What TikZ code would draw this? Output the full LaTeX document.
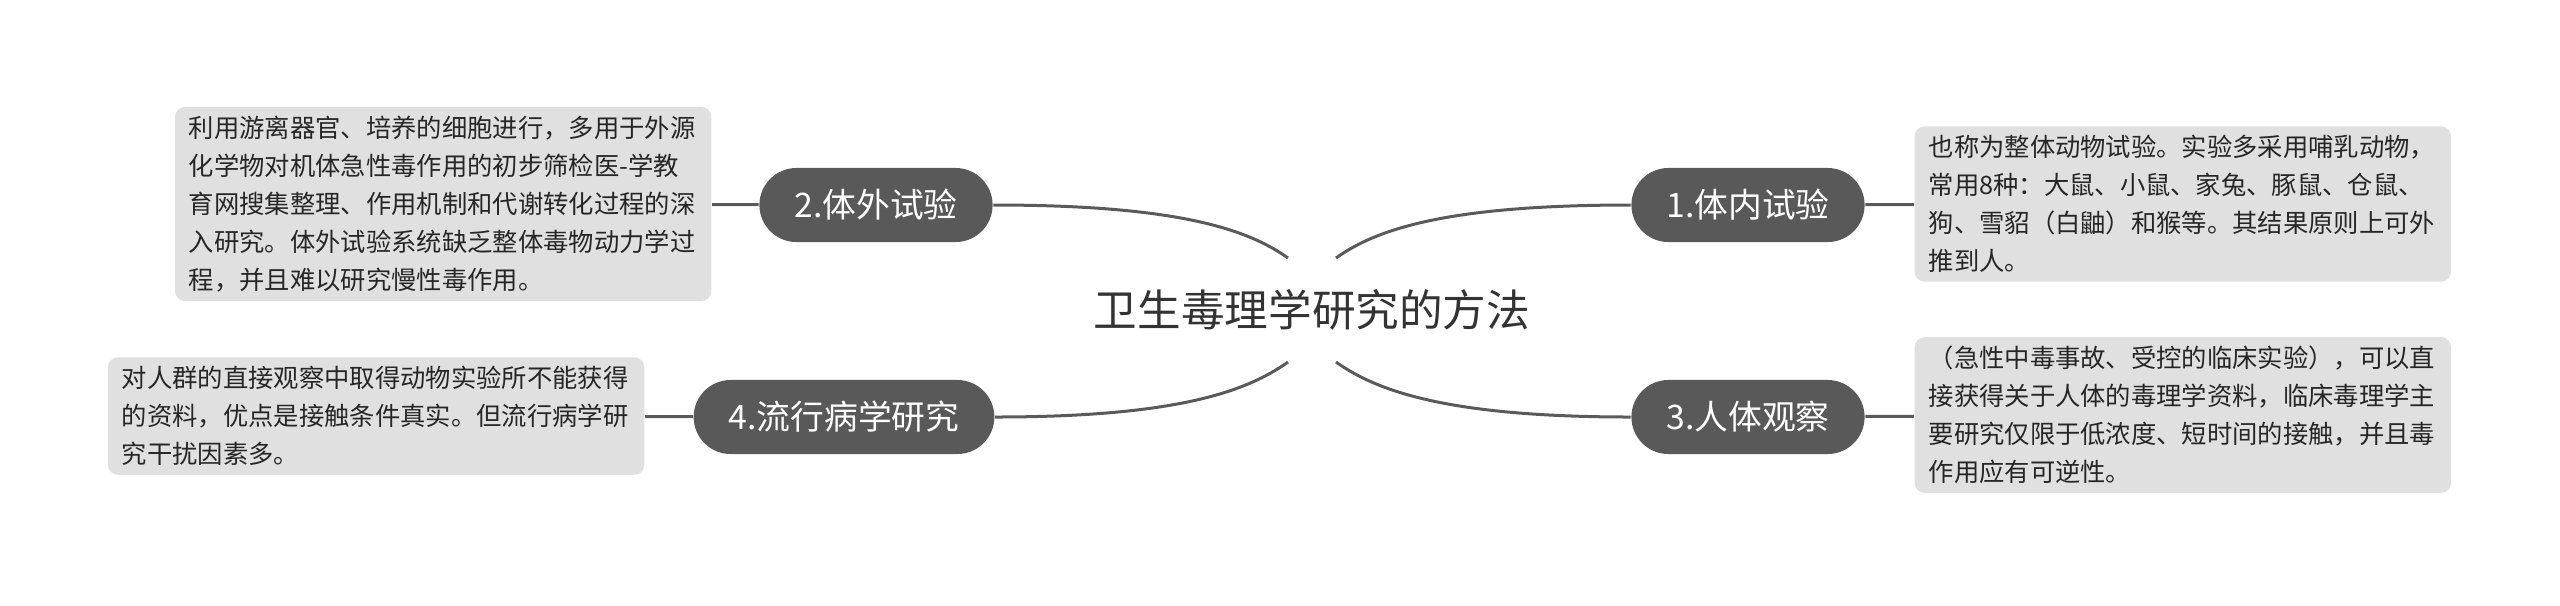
\documentclass[tikz,border=0pt]{standalone}
\usepackage{fontspec}
\setmainfont{Noto Sans CJK SC}
\definecolor{pillgray}{HTML}{595959}
\definecolor{notegray}{HTML}{E0E0E0}
\definecolor{linegray}{HTML}{5A5A5A}
\definecolor{inkgray}{HTML}{333333}
\begin{document}
\begin{tikzpicture} [x=0.01cm, y=-0.01cm]
\tikzstyle{topic}=[fill=pillgray, text=white, rounded corners=0.37cm, minimum height=0.74cm, inner xsep=0.35cm, font=\fontsize{9.6pt}{11pt}\selectfont];
\tikzstyle{note}=[fill=notegray, text=black!85, rounded corners=0.1cm, text width=5.08cm, align=left, inner xsep=0.14cm, inner ysep=0.09cm, font=\fontsize{7.2pt}{10.8pt}\selectfont];
\tikzstyle{link}=[draw=linegray, line width=0.03cm];
\useasboundingbox (0,0) rectangle (2560,605);
\node [text=inkgray, font=\fontsize{12.4pt}{14pt}\selectfont] (root) at (1312, 310) {卫生毒理学研究的方法};
\coordinate (ru) at (1336, 258);
\coordinate (lu) at (1288, 258);
\coordinate (rd) at (1336, 362);
\coordinate (ld) at (1288, 362);
\node [topic] (m1) at (1748, 205) {1.体内试验};
\node [topic] (m2) at (876, 205) {2.体外试验};
\node [topic] (m3) at (1748, 417) {3.人体观察};
\node [topic] (m4) at (844, 417) {4.流行病学研究};
\node [note, anchor=west] (d1) at (1914, 204) {也称为整体动物试验。实验多采用哺乳动物，\\常用8种：大鼠、小鼠、家兔、豚鼠、仓鼠、\\狗、雪貂（白鼬）和猴等。其结果原则上可外\\推到人。};
\node [note, anchor=east] (d2) at (712, 204) {利用游离器官、培养的细胞进行，多用于外源\\化学物对机体急性毒作用的初步筛检医-学教\\育网搜集整理、作用机制和代谢转化过程的深\\入研究。体外试验系统缺乏整体毒物动力学过\\程，并且难以研究慢性毒作用。};
\node [note, anchor=west] (d3) at (1914, 415) {（急性中毒事故、受控的临床实验），可以直\\接获得关于人体的毒理学资料，临床毒理学主\\要研究仅限于低浓度、短时间的接触，并且毒\\作用应有可逆性。};
\node [note, anchor=east] (d4) at (645, 416) {对人群的直接观察中取得动物实验所不能获得\\的资料，优点是接触条件真实。但流行病学研\\究干扰因素多。};
\draw [link] (ru) .. controls +(42,-30) and +(-180,0) .. (m1.west)
(lu) .. controls +(-42,-30) and +(180,0) .. (m2.east)
(rd) .. controls +(42,30) and +(-180,0) .. (m3.west)
(ld) .. controls +(-42,30) and +(180,0) .. (m4.east);
\draw [link] (m1) -- (d1)
(m2) -- (d2)
(m3) -- (d3)
(m4) -- (d4);
\end{tikzpicture}
\end{document}
